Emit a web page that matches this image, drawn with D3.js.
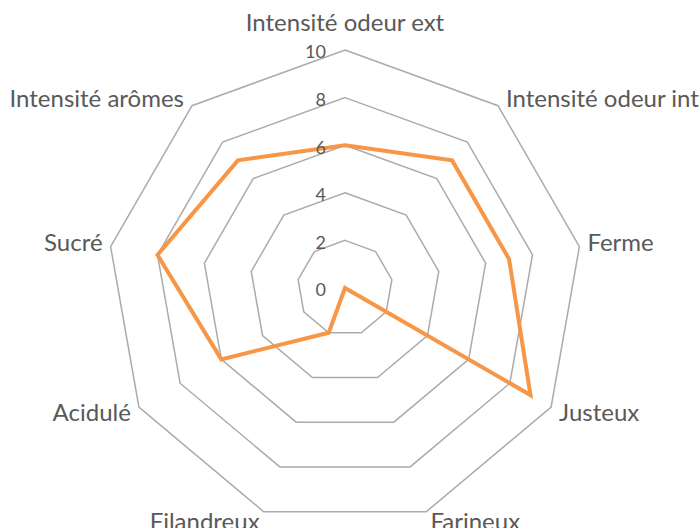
<!DOCTYPE html>
<html lang="fr">
<head>
  <meta charset="UTF-8">
  <title>Radar</title>
  <style>
    body { margin: 0; background: #fff; font-family: Lato, "Open Sans", sans-serif; }
  </style>
  <script src="https://cdn.jsdelivr.net/npm/d3@7"></script>
</head>
<body>
<script>
  var categories = ["Intensité odeur ext", "Intensité odeur int", "Ferme", "Justeux", "Farineux",
                    "Filandreux", "Acidulé", "Sucré", "Intensité arômes"];
  var values = [6, 7, 7, 9, 0, 2, 6, 8, 7];
  var ticks = [0, 2, 4, 6, 8, 10];

  var w = 699, h = 528;
  var cx = 345, cy = 288, R = 238;

  var svg = d3.select("body").append("svg").attr("width", w).attr("height", h);
  var g = svg.append("g").attr("transform", "translate(" + cx + "," + cy + ")");

  var r = d3.scaleLinear().domain([0, 10]).range([0, R]);
  var angle = d3.scaleLinear().domain([0, categories.length]).range([0, 2 * Math.PI]);

  var ring = d3.lineRadial()
    .angle(function(d, i) { return angle(i); })
    .radius(function(d) { return r(d); })
    .curve(d3.curveLinearClosed);

  // grid rings
  g.selectAll("path.grid")
    .data(ticks.filter(function(t) { return t > 0; }))
    .enter()
    .append("path")
    .attr("class", "grid")
    .attr("d", function(t) { return ring(categories.map(function() { return t; })); })
    .attr("fill", "none")
    .attr("stroke", "#ababab")
    .attr("stroke-width", 1.5);

  // series
  g.append("path")
    .attr("d", ring(values))
    .attr("fill", "none")
    .attr("stroke", "#F79646")
    .attr("stroke-width", 4)
    .attr("stroke-linejoin", "miter");

  // tick labels
  g.selectAll("text.tick")
    .data(ticks)
    .enter()
    .append("text")
    .attr("class", "tick")
    .attr("x", -19)
    .attr("y", function(t) { return -r(t) + 2; })
    .attr("dy", "0.35em")
    .attr("text-anchor", "end")
    .style("font-size", "18px")
    .style("fill", "#595959")
    .text(function(t) { return t; });

  // category labels
  g.selectAll("text.cat")
    .data(categories)
    .enter()
    .append("text")
    .attr("class", "cat")
    .each(function(c, i) {
      var a = angle(i);
      var s = Math.sin(a), co = Math.cos(a);
      var vx = R * s, vy = -R * co;
      var t = d3.select(this);
      if (co > 0.9) {
        t.attr("x", vx).attr("y", vy - 19).attr("text-anchor", "middle");
      } else if (co < -0.9) {
        t.attr("x", vx + (s > 0 ? 4 : -4)).attr("y", vy + 18)
          .attr("text-anchor", s > 0 ? "start" : "end");
      } else {
        t.attr("x", vx + (s > 0 ? 8 : -8))
          .attr("y", vy - 6 * co - 3 * Math.sign(co))
          .attr("dy", "0.35em")
          .attr("text-anchor", s > 0 ? "start" : "end");
      }
    })
    .style("font-size", "24px")
    .style("fill", "#595959")
    .text(function(c) { return c; });
</script>
</body>
</html>
